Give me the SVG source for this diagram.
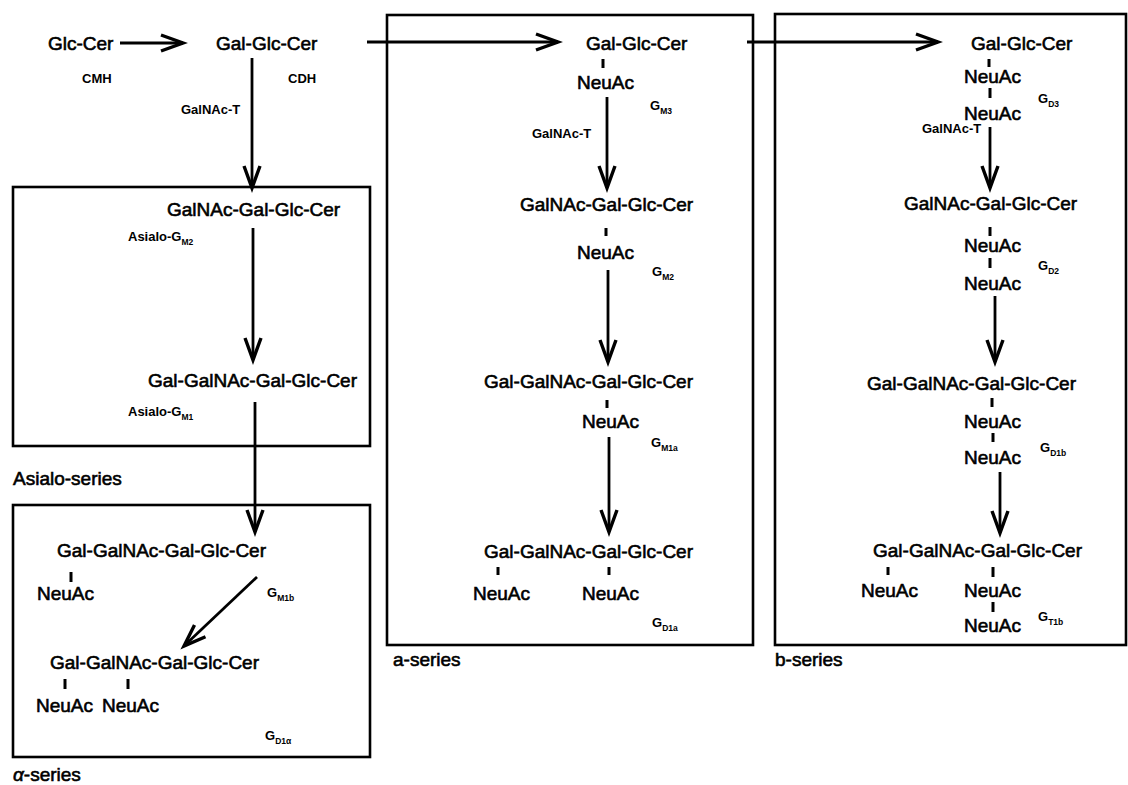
<svg xmlns="http://www.w3.org/2000/svg" width="1128" height="785" viewBox="0 0 1128 785">
<style>
  text { font-family: "Liberation Sans", Arial, sans-serif; fill: #000; }
  .m { font-size: 19px; stroke: #000; stroke-width: 0.6px; }
  .s { font-size: 13px; font-weight: bold; }
  .g { font-size: 13px; font-weight: bold; }
  .sub { font-size: 8.5px; font-weight: bold; }
  .lbl { font-size: 19px; stroke: #000; stroke-width: 0.6px; }
  .box { fill: none; stroke: #000; stroke-width: 2.6; }
  .arr { fill: none; stroke: #000; stroke-width: 2.8; marker-end: url(#chev); }
  .tick { stroke: #000; stroke-width: 3; }
</style>
<defs>
  <marker id="chev" viewBox="-26 -12 28 24" markerWidth="28" markerHeight="24" refX="0" refY="0" orient="auto" markerUnits="userSpaceOnUse" overflow="visible">
    <path d="M-22,-8 L0,0 L-22,8" fill="none" stroke="#000" stroke-width="3.4" stroke-linejoin="miter"/>
  </marker>
</defs>
<rect width="1128" height="785" fill="#fff"/>

<g id="boxes">
  <rect id="box-asialo" class="box" x="13" y="187" width="357" height="259"/>
  <rect id="box-alpha" class="box" x="13" y="505" width="357" height="252"/>
  <rect id="box-a" class="box" x="387" y="15" width="366" height="630"/>
  <rect id="box-b" class="box" x="775" y="14" width="351" height="631"/>
</g>

<g id="connectors">
  <line class="arr" x1="120" y1="43" x2="183" y2="43"/>
  <line class="arr" x1="367" y1="42" x2="558" y2="42"/>
  <line class="arr" x1="747" y1="42" x2="938" y2="42"/>
  <line class="arr" x1="252" y1="58" x2="252" y2="188"/>
  <line class="arr" x1="253" y1="228" x2="253" y2="360"/>
  <line class="arr" x1="255" y1="402" x2="255" y2="532"/>
  <line class="arr" x1="257" y1="577" x2="184" y2="646"/>
  <line class="arr" x1="607" y1="97" x2="607" y2="188"/>
  <line class="arr" x1="608" y1="270" x2="608" y2="362"/>
  <line class="arr" x1="609" y1="437" x2="609" y2="532"/>
  <line class="arr" x1="990" y1="127" x2="990" y2="188"/>
  <line class="arr" x1="995" y1="296" x2="995" y2="362"/>
  <line class="arr" x1="1000" y1="472" x2="1000" y2="533"/>
</g>

<g id="top-row">
  <text class="m" x="48" y="50">Glc-Cer</text>
  <text class="m" x="216" y="50">Gal-Glc-Cer</text>
  <text class="s" x="82" y="83">CMH</text>
  <text class="s" x="288" y="83">CDH</text>
  <text class="s" x="181" y="114">GalNAc-T</text>
</g>

<g id="asialo-series">
  <text class="m" x="167" y="216">GalNAc-Gal-Glc-Cer</text>
  <text class="g" x="128" y="241">Asialo-G<tspan class="sub" dy="4">M2</tspan></text>
  <text class="m" x="148" y="387">Gal-GalNAc-Gal-Glc-Cer</text>
  <text class="g" x="128" y="416">Asialo-G<tspan class="sub" dy="4">M1</tspan></text>
  <text class="lbl" x="13" y="485">Asialo-series</text>
</g>

<g id="alpha-series">
  <text class="m" x="57" y="557">Gal-GalNAc-Gal-Glc-Cer</text>
  <line class="tick" x1="71" y1="572" x2="71" y2="582"/>
  <text class="m" x="37" y="600">NeuAc</text>
  <text class="g" x="267" y="597">G<tspan class="sub" dy="4">M1b</tspan></text>
  <text class="m" x="50" y="669">Gal-GalNAc-Gal-Glc-Cer</text>
  <line class="tick" x1="65" y1="679" x2="65" y2="689"/>
  <line class="tick" x1="128" y1="679" x2="128" y2="689"/>
  <text class="m" x="36" y="712">NeuAc</text>
  <text class="m" x="102" y="712">NeuAc</text>
  <text class="g" x="265" y="740">G<tspan class="sub" dy="4">D1α</tspan></text>
  <text class="lbl" x="13" y="781"><tspan font-style="italic">α</tspan>-series</text>
</g>

<g id="a-series">
  <text class="m" x="586" y="50">Gal-Glc-Cer</text>
  <line class="tick" x1="603" y1="59" x2="603" y2="68"/>
  <text class="m" x="577" y="89">NeuAc</text>
  <text class="g" x="650" y="110">G<tspan class="sub" dy="4">M3</tspan></text>
  <text class="s" x="532" y="138">GalNAc-T</text>
  <text class="m" x="520" y="211">GalNAc-Gal-Glc-Cer</text>
  <line class="tick" x1="606" y1="228" x2="606" y2="236"/>
  <text class="m" x="577" y="259">NeuAc</text>
  <text class="g" x="652" y="276">G<tspan class="sub" dy="4">M2</tspan></text>
  <text class="m" x="484" y="388">Gal-GalNAc-Gal-Glc-Cer</text>
  <line class="tick" x1="607" y1="400" x2="607" y2="408"/>
  <text class="m" x="582" y="428">NeuAc</text>
  <text class="g" x="651" y="447">G<tspan class="sub" dy="4">M1a</tspan></text>
  <text class="m" x="484" y="558">Gal-GalNAc-Gal-Glc-Cer</text>
  <line class="tick" x1="498" y1="567" x2="498" y2="575"/>
  <line class="tick" x1="609" y1="567" x2="609" y2="575"/>
  <text class="m" x="473" y="600">NeuAc</text>
  <text class="m" x="582" y="600">NeuAc</text>
  <text class="g" x="652" y="627">G<tspan class="sub" dy="4">D1a</tspan></text>
  <text class="lbl" x="393" y="666">a-series</text>
</g>

<g id="b-series">
  <text class="m" x="971" y="50">Gal-Glc-Cer</text>
  <line class="tick" x1="989" y1="59" x2="989" y2="67"/>
  <text class="m" x="964" y="83">NeuAc</text>
  <line class="tick" x1="990" y1="88" x2="990" y2="98"/>
  <text class="m" x="964" y="120">NeuAc</text>
  <text class="g" x="1038" y="103">G<tspan class="sub" dy="4">D3</tspan></text>
  <text class="s" x="922" y="133">GalNAc-T</text>
  <text class="m" x="904" y="210">GalNAc-Gal-Glc-Cer</text>
  <line class="tick" x1="990" y1="227" x2="990" y2="236"/>
  <text class="m" x="964" y="252">NeuAc</text>
  <line class="tick" x1="990" y1="258" x2="990" y2="268"/>
  <text class="m" x="964" y="290">NeuAc</text>
  <text class="g" x="1038" y="270">G<tspan class="sub" dy="4">D2</tspan></text>
  <text class="m" x="867" y="390">Gal-GalNAc-Gal-Glc-Cer</text>
  <line class="tick" x1="992" y1="398" x2="992" y2="407"/>
  <text class="m" x="964" y="428">NeuAc</text>
  <line class="tick" x1="993" y1="433" x2="993" y2="442"/>
  <text class="m" x="964" y="464">NeuAc</text>
  <text class="g" x="1040" y="452">G<tspan class="sub" dy="4">D1b</tspan></text>
  <text class="m" x="873" y="557">Gal-GalNAc-Gal-Glc-Cer</text>
  <line class="tick" x1="888" y1="567" x2="888" y2="575"/>
  <text class="m" x="861" y="597">NeuAc</text>
  <line class="tick" x1="993" y1="567" x2="993" y2="577"/>
  <text class="m" x="964" y="597">NeuAc</text>
  <line class="tick" x1="993" y1="602" x2="993" y2="612"/>
  <text class="m" x="964" y="632">NeuAc</text>
  <text class="g" x="1038" y="621">G<tspan class="sub" dy="4">T1b</tspan></text>
  <text class="lbl" x="775" y="666">b-series</text>
</g>
</svg>
